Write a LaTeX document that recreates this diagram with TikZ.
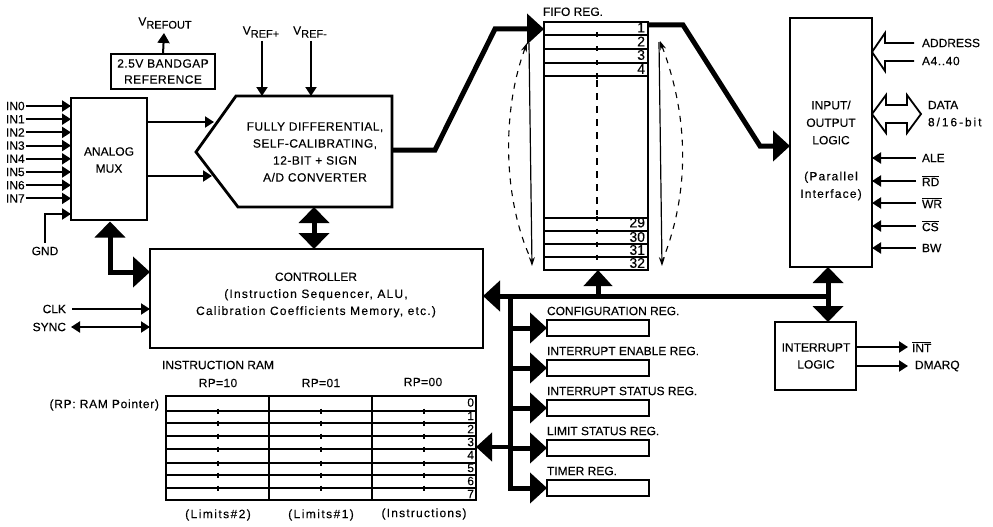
\documentclass[tikz,border=0pt]{standalone}
\usepackage{fontspec}
\setmainfont[FakeBold=0.25]{Liberation Sans}
\usetikzlibrary{arrows.meta}
\newcommand{\ovl}[1]{$\overline{\hbox{#1}}$}
\newcommand{\vsub}[2]{V\raisebox{-3pt}{\fontsize{11}{11}\selectfont #1}}
\newcommand{\ls}[1]{\addfontfeatures{LetterSpace=#1}}
\tikzset{
  box/.style={draw,line width=2.8pt,inner sep=0pt,outer sep=0pt,align=center,anchor=north west,font=\fontsize{12}{17}\selectfont},
  lbl/.style={inner sep=0pt,outer sep=0pt,font=\fontsize{12}{17}\selectfont,align=center},
  lblL/.style={lbl,anchor=west},
  lblR/.style={lbl,anchor=east},
  sig/.style={line width=2pt,-{Triangle[length=9pt,width=11pt]}},
  sigb/.style={line width=2pt,{Triangle[length=9pt,width=11pt]}-{Triangle[length=9pt,width=11pt]}},
  bus/.style={line width=5pt,-{Triangle[length=17pt,width=30pt]}},
  busb/.style={line width=5pt,{Triangle[length=16pt,width=30pt]}-{Triangle[length=16pt,width=30pt]}},
  hollow/.style={line width=1.8pt,line join=miter},
  fine/.style={line width=1.2pt},
  finedash/.style={line width=1.1pt,dash pattern=on 6pt off 6pt},
  reg/.style={box,minimum width=102pt,minimum height=16pt},
  num/.style={lblR,font=\fontsize{14}{14}\selectfont},
  numr/.style={lblR,font=\fontsize{12}{12}\selectfont}
}
\begin{document}
\begin{tikzpicture}[x=1pt,y=-1pt]
\useasboundingbox (0,0) rectangle (993,527);
% main blocks
\node[box,minimum width=104pt,minimum height=35pt] (bg) at (111,54) {\ls{4}2.5V BANDGAP\\[-1pt]\ls{4}REFERENCE};
\node[box,minimum width=76pt,minimum height=122pt] (mux) at (71,98) {};
\node[lbl] (muxl) at (109,160) {ANALOG\\MUX};
\node[box,minimum width=104pt,minimum height=248pt] (fifo) at (544,22) {};
\node[box,minimum width=82pt,minimum height=249pt] (io) at (790,18) {};
\node[lbl] (iol) at (831,150.5) {INPUT/\\[0.5pt]OUTPUT\\[0.5pt]LOGIC\\[19pt]\ls{10}(Parallel\\[0.5pt]\ls{10}Interface)};
\node[box,minimum width=81pt,minimum height=68pt] (intl) at (775,322) {};
\node[lbl] (intll) at (816,356) {INTERRUPT\\LOGIC};
\node[box,minimum width=333pt,minimum height=99pt] (ctrl) at (150,249) {};
\node[lbl] (ctrll) at (316,295) {CONTROLLER\\\ls{10}(Instruction Sequencer, ALU,\\\ls{10}Calibration Coefficients Memory, etc.)};
\node[box,minimum width=310pt,minimum height=104pt] (ram) at (166,396) {};
% ADC polygon
\coordinate (adcT1) at (262,96); \coordinate (adcT2) at (311,96);
\coordinate (adcA) at (214,122); \coordinate (adcB) at (212,176);
\coordinate (adcR) at (392,150); \coordinate (adcBm) at (314,207); \coordinate (adcTm) at (314,96);
\draw[line width=2.8pt,line join=miter] (236,96) -- (392,96) -- (392,207) -- (238,207) -- (196,152) -- cycle;
\node[lbl] (adc) at (315,152) {\ls{4}FULLY DIFFERENTIAL,\\\ls{4}SELF-CALIBRATING,\\\ls{4}12-BIT + SIGN\\\ls{4}A/D CONVERTER};
% band gap output
\node[lbl] (vout) at (165,23) {\vsub{REFOUT}{}};
\draw[line width=2pt,-{Triangle[length=10pt,width=12pt]}] (bg.north) -- (164,33);
% vrefs
\node[lbl] (vp) at (261,32) {\vsub{REF+}{}};
\node[lbl] (vm) at (310,32) {\vsub{REF-}{}};
\draw[sig] (262,41) -- (adcT1);
\draw[sig] (311,41) -- (adcT2);
% IN lines
\foreach \i/\y in {0/106,1/119.2,2/132.4,3/145.6,4/158.8,5/172,6/185.2,7/198.4}{
  \node[lblL] (in\i) at (6,\y) {IN\i};
  \draw[sig] (in\i.east)++(1,0) -- (mux.west |- in\i.east);
}
\node[lbl] (gnd) at (45,251) {GND};
\draw[sig] (gnd.north)++(0,-4) |- (mux.west |- 0,214);
% mux to ADC
\draw[sig] (mux.east |- adcA) -- (adcA);
\draw[sig] (mux.east |- adcB) -- (adcB);
% thick connections
\draw[bus,line join=miter] (adcR) -- (435,150) -- (495,29) -- (fifo.west |- 0,29);
\draw[bus,line join=miter] (fifo.east |- 0,25) -- (683,25) -- (760,146) -- (io.west |- 0,146);
\draw[busb] (adcBm) -- (ctrl.north -| adcBm);
\draw[line width=5pt,{Triangle[length=16pt,width=30pt]}-{Triangle[length=17pt,width=30pt]},line join=miter] (110,221.5) -- (110,272) -- (ctrl.west |- 0,272);
% clk sync
\node[lblR] (clk) at (66,309) {CLK};
\node[lblR] (sync) at (66,327) {SYNC};
\draw[sig] (clk.east)++(6,0) -- (ctrl.west |- clk.east);
\draw[sigb] (sync.east)++(5,0) -- (ctrl.west |- sync.east);
% bus
\coordinate (jV) at (510,296);
\coordinate (jIO) at (828,296);
\draw[bus] (jIO) -- (ctrl.east |- 0,296);
\draw[line width=5pt,-{Triangle[length=16pt,width=28pt]}] (598,296) -- (fifo.south -| 598,0);
\draw[busb] (io.south -| jIO) -- (intl.north -| jIO);
% registers
\foreach \n/\y/\t in {cfg/320/CONFIGURATION REG.,ien/360/INTERRUPT ENABLE REG.,ist/400/INTERRUPT STATUS REG.,lim/440/LIMIT STATUS REG.,tim/480/TIMER REG.}{
  \node[reg] (\n) at (547,\y) {};
  \node[lblL] (\n l) at (547,\y-9) {\t};
  \draw[bus] (510,\y+8) -- (\n.west);
}
\draw[line width=5pt,line cap=butt] (jV) -- (510,490.5);
\draw[line width=4pt,-{Triangle[length=16pt,width=28pt]}] (510,447) -- (ram.east |- 0,447);
% interrupt outputs
\node[lblL] (nint) at (912,347) {\ovl{INT}};
\node[lblL] (dmarq) at (915,366) {DMARQ};
\draw[sig] (intl.east |- nint.west) -- ([xshift=-4pt]nint.west);
\draw[sig] (intl.east |- dmarq.west) -- ([xshift=-7pt]dmarq.west);
% IO pins
\foreach \n/\y/\t in {ale/158/ALE,rd/181/\ovl{RD},wr/203/\ovl{WR},cs/226/\ovl{CS},bw/248/BW}{
  \node[lblL] (\n) at (922,\y) {\t};
  \draw[sig] (\n.west)++(-6,0) -- (io.east |- \n.west);
}
\node[lblL] (addr) at (922,43) {ADDRESS};
\node[lblL] (a440) at (922,61) {\ls{5}A4..40};
\node[lblL] (data) at (928,105) {DATA};
\node[lblL] (w816) at (928,122) {\ls{16}8/16-bit};
\coordinate (addrtip) at (io.east |- 0,52);
\draw[hollow] (914,43) -- (885,43) -- (885,33) -- (addrtip) -- (885,71) -- (885,61) -- (914,61);
\coordinate (datatip) at (io.east |- 0,114);
\draw[hollow] (datatip) -- (886,95) -- (886,105) -- (907,105) -- (907,95) -- (921,114) -- (907,133) -- (907,123) -- (886,123) -- (886,133) -- cycle;
% FIFO content
\node[lbl,anchor=south west,font=\fontsize{12}{12}\selectfont] (fifol) at (543,16) {FIFO REG.};
\foreach \y in {35,49,63,76,218,231,244,257}{
  \draw[line width=1.5pt] (fifo.west |- 0,\y) -- (fifo.east |- 0,\y);
  \draw[line width=1.5pt] (597,\y-2.5) -- (597,\y+2.5);
}
\foreach \y/\t in {27.5/1,41.5/2,55/3,69/4,222.5/29,237/30,250/31,263/32}{
  \node[num] (f\t) at (645,\y) {\t};
}
\draw[fine,dash pattern=on 7pt off 6pt] (597,80) -- (597,215);
\draw[fine,-{Stealth[length=9pt,width=6pt]}] (529,43) -- (532,266);
\draw[finedash,{Stealth[length=9pt,width=6pt]}-] (527,43) .. controls (502,110) and (503,195) .. (529,255);
\draw[fine,-{Stealth[length=9pt,width=6pt]}] (659,42) -- (662,266);
\draw[finedash,{Stealth[length=9pt,width=6pt]}-] (660,41) .. controls (688,115) and (691,190) .. (662,262);
% RAM content
\node[lblL] (raml) at (162,365) {INSTRUCTION RAM};
\node[lbl] (rp10) at (218,383) {\ls{3}RP=10};
\node[lbl] (rp01) at (321,383) {\ls{3}RP=01};
\node[lbl] (rp00) at (423,382) {\ls{3}RP=00};
\node[lblR] (rpn) at (159,405) {\ls{6}(RP: RAM Pointer)};
\node[lbl] (l2) at (218,515) {\ls{12}(Limits\#2)};
\node[lbl] (l1) at (321,515) {\ls{12}(Limits\#1)};
\node[lbl] (li) at (424,514) {\ls{10}(Instructions)};
\foreach \y in {411,423,436,449,463,475,488}{
  \draw[line width=1.8pt] (ram.west |- 0,\y) -- (ram.east |- 0,\y);
  \foreach \x in {218,321,424}{ \draw[line width=1.2pt] (\x,\y-2.5) -- (\x,\y+2.5); }
}
\draw[line width=1.8pt] (269,396) -- (269,501);
\draw[line width=1.8pt] (372,396) -- (372,501);
\foreach \y/\t in {402.5/0,416/1,429/2,442/3,455/4,468/5,481/6,494/7}{
  \node[numr] (r\t) at (474,\y) {\t};
}
\end{tikzpicture}
\end{document}
